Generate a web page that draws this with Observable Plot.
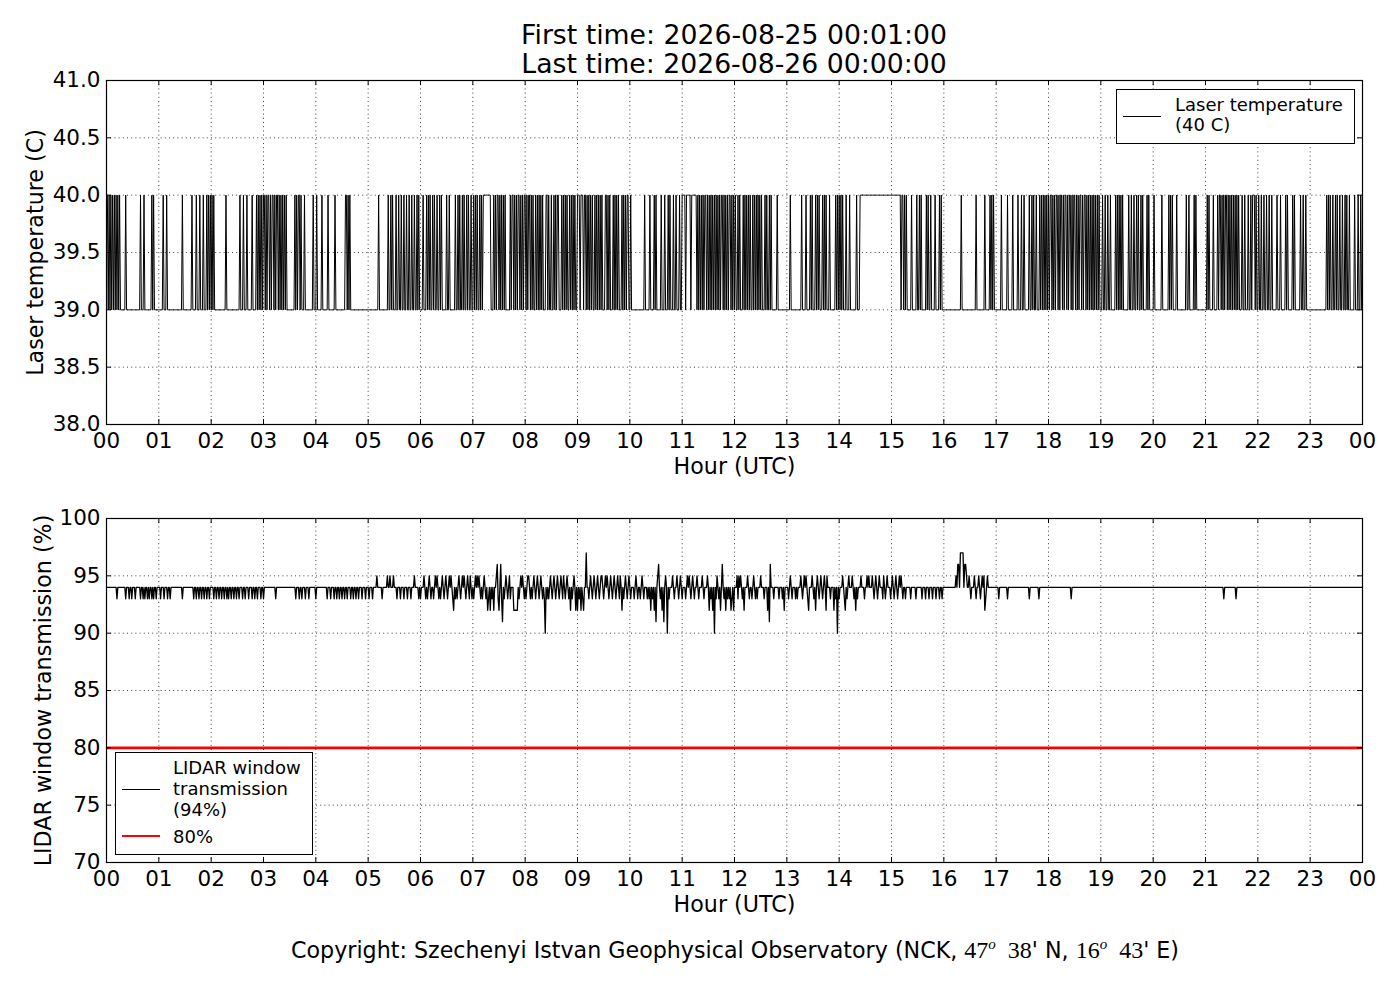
<!DOCTYPE html>
<html><head><meta charset="utf-8">
<script src="https://cdn.jsdelivr.net/npm/d3@7"></script>
<script src="https://cdn.jsdelivr.net/npm/@observablehq/plot@0.6"></script>
<style>
html,body{margin:0;padding:0;background:#fff;}
#page{position:relative;width:1400px;height:1000px;font-family:"DejaVu Sans",sans-serif;color:#000;overflow:hidden;}
.abs{position:absolute;}
#title{left:0;width:1468px;top:20px;text-align:center;font-size:26.7px;line-height:29px;z-index:5;}
#footer{left:0;width:1470px;top:935px;text-align:center;font-size:22.2px;line-height:30px;white-space:nowrap;}
.m{font-family:"Liberation Serif","DejaVu Serif",serif;font-size:24px;}
.m sup{font-size:15px;font-style:italic;vertical-align:9px;line-height:0;}
.legend{background:#fff;border:1.3px solid #000;box-sizing:border-box;z-index:5;font-size:18px;}
.legend .txt{position:absolute;white-space:nowrap;}
.legend .sw{position:absolute;height:0;}
</style></head><body>
<div id="page">
  <div id="title" class="abs">First time: 2026-08-25 00:01:00<br>Last time: 2026-08-26 00:00:00</div>
  <div id="p1" class="abs" style="left:0;top:60px;"></div>
  <div id="p2" class="abs" style="left:0;top:498px;"></div>
  <div id="leg1" class="abs legend" style="left:1116px;top:89px;width:239px;height:55px;">
    <div class="sw" style="left:6px;top:26px;width:38px;border-top:1.3px solid #000;"></div>
    <div class="txt" style="left:58px;top:5px;line-height:20px;">Laser temperature<br>(40 C)</div>
  </div>
  <div id="leg2" class="abs legend" style="left:115px;top:752px;width:198px;height:103px;">
    <div class="sw" style="left:6px;top:36px;width:38px;border-top:1.3px solid #000;"></div>
    <div class="txt" style="left:57px;top:4px;line-height:21px;">LIDAR window<br>transmission<br>(94%)</div>
    <div class="sw" style="left:6px;top:82px;width:38px;border-top:2.6px solid #ff0000;"></div>
    <div class="txt" style="left:57px;top:73px;line-height:21px;">80%</div>
  </div>
  <div id="footer" class="abs">Copyright: Szechenyi Istvan Geophysical Observatory (NCK, <span class="m">47<sup>o</sup>&nbsp; 38</span>' N, <span class="m">16<sup>o</sup>&nbsp; 43</span>' E)</div>
</div>
<script>
// ---------- axes ----------
const hourTicks = d3.range(0, 25);
const hourLabels = hourTicks.map(h => String(h % 24).padStart(2, "0"));
const tempTicks = [38, 38.5, 39, 39.5, 40, 40.5, 41];
const lidarTicks = [70, 75, 80, 85, 90, 95, 100];
const tempDomain = [38, 41];
const lidarDomain = [70, 100];

// ---------- laser temperature (per-minute samples, 39 or 40 C) ----------
const laserLow = 39;
const laserHigh = 40;
// minutes past each hour at which the reading is 40 C ([a, b] = a run of minutes)
const laserHighMinutes = [
  [1,3,5,7,9,11,13,15,22,39,43,52,54],
  [5,9,27,38,43,47,51,55,57,59],
  [1,3,17,33,37,41,47,52,54,56,58],
  [0,1,3,5,6,8,10,11,13,15,16,18,20,22,24,26,36,38,40,41,43,47,57],
  [1,7,14,22,34,35,37,39],
  [12,23,26,28,32,35,38,41,44,47,50,53,56,58],
  [3,7,9,11,14,16,19,22,24,30,33,40,43,45,48,50,53,55,58],
  [1,3,5,8,10,12,[13,20],24,26,28,29,31,33,35,37,43,45,46,48,50,52,53,55,57,59],
  [0,2,4,5,7,9,12,14,16,18,20,24,25,27,30,33,35,37,38,42,44,46,48,51,53,55,57],
  [0,1,2,4,5,6,8,9,11,13,15,17,20,22,24,26,28,32,33,35,37,41,43,45,47,51,53,55,57,58],
  [1,17,23,28,30,36,40,44,46,50,53,57],
  [0,1,2,3,5,6,7,8,9,11,12,13,14,15,16,18,20,22,24,26,27,29,31,33,35,37,39,41,43,45,46,48,50,52,54,55,57,59],
  [1,4,6,10,12,14,16,18,21,23,25,27,29,31,35,37,40,42,49],
  [4,17,22,27,29,33,35,37,41,43,45,49,56,58],
  [0,2,4,8,12,20,[24,59]],
  [[0,10],12,13,15,17,23,29,32,34,40,42,45,50,55,57],
  [20,37,47,53,55,57],
  [6,13,19,25,29,32,38,41,43,46,50,52,54,56,58],
  [0,2,3,5,7,9,10,12,14,15,17,19,20,22,24,25,27,29,30,32,34,36,37,39,41,42,44,46,48,50,52,54,56,58],
  [2,5,8,11,17,19,21,23,25,32,35,38,41,43,46,48,53,55],
  [1,10,18,20,22,27,38,41,47,49],
  [2,4,9,14,16,17,19,21,23,24,26,28,30,32,34,36,38,42,45,49,52,54,55,56,58],
  [1,4,7,10,13,16,22,26,32,34,40,42,49,52,55],
  [19,21,23,26,29,31,34,37,40,42,45,51,55,58]
];

// ---------- LIDAR window transmission (per-minute samples, %) ----------
const lidarBase = 94;
const lidarThreshold = 80;
// [minute of day, value] where the reading differs from the 94 % baseline
const lidarChanges = [
  [12,93],[22,93],[26,93],[29,93],[33,93],[39,93],[42,93],[44,93],[47,93],[49,93],[52,93],[54,93],[57,93],
  [62,93],[66,93],[70,93],[73,93],[87,93],[100,93],[103,93],[106,93],[109,93],[112,93],[115,93],[118,93],
  [123,93],[126,93],[129,93],[132,93],[135,93],[138,93],[140,93],[143,93],[146,93],[149,93],[152,93],
  [156,93],[159,93],[163,93],[167,93],[170,93],[173,93],[177,93],[180,93],[194,93],[217,93],[221,93],
  [224,93],[228,93],[232,93],[240,93],[253,93],[257,93],[261,93],[264,93],[267,93],[270,93],[273,93],
  [276,93],[280,93],[283,93],[286,93],[289,93],[293,93],[297,93],[301,93],[305,93],[310,95],[316,93],
  [322,95],[325,95],[329,95],[333,93],[337,93],[341,93],[345,93],[349,93],[353,95],
  [358,93],[360,93],[364,95],[366,93],[368,93],[370,95],[372,93],[375,93],[377,95],[379,95],[381,93],
  [383,93],[385,95],[387,93],[389,95],[391,93],[393,95],[395,95],[397,93],[398,92],
  [400,93],[402,93],[404,95],[406,93],[408,95],[410,95],[412,93],[414,95],[416,93],[417,95],[419,93],
  [421,93],[423,95],[425,95],[427,95],[429,93],[431,93],[433,95],[435,93],[437,92],[438,93],[440,92],
  [442,93],[444,92],[447,95],[448,96],[449,93],[450,92],[452,96],[453,93],[454,91],[456,93],
  [458,95],[460,93],[462,95],[463,93],[467,92],[468,92],[469,92],[470,92],[471,92],[473,93],
  [475,95],[477,95],[479,93],[481,93],[483,95],[484,95],[486,93],[488,93],[490,95],[492,93],[494,95],
  [496,93],[498,95],[500,93],[502,93],[503,90],[505,93],[507,93],[509,95],[511,93],[513,95],[515,93],
  [517,95],[519,93],[521,95],[523,93],[524,95],[526,93],[528,95],[530,93],[532,92],[534,93],[536,95],
  [538,92],[540,92],[542,93],[544,92],[546,93],[547,92],[550,97],[553,93],
  [555,95],[557,93],[559,95],[561,93],[563,95],[565,93],[567,95],[568,95],[570,93],[572,95],[574,95],
  [576,93],[578,95],[580,93],[582,95],[584,93],[586,95],[588,93],[589,95],[591,92],[593,93],[595,95],
  [597,93],[599,95],[601,93],[605,93],[607,95],[609,93],[612,93],[614,95],[616,93],[620,93],
  [622,93],[624,92],[626,93],[628,92],[630,91],[632,95],[633,96],[635,93],[637,92],[639,91],[641,95],
  [643,90],[645,93],[649,95],[651,93],[654,95],[656,93],[658,95],[660,93],[664,93],[666,95],
  [668,95],[670,93],[672,95],[674,93],[677,95],[679,93],[683,95],[685,93],[689,95],[691,92],[693,93],
  [695,92],[697,90],[699,93],[700,95],[702,93],[704,92],[706,96],[708,93],[710,92],[712,93],[714,93],
  [716,92],[717,93],[719,92],[723,95],[724,93],[725,95],[727,95],[729,93],[731,92],[735,95],[737,93],
  [740,93],[742,95],[744,93],[746,93],[750,95],[754,93],[758,92],[760,91],[761,96],
  [765,93],[771,93],[775,93],[777,92],[782,93],[784,95],[786,93],[790,93],[792,93],[796,95],[798,93],
  [800,95],[802,95],[804,93],[805,92],[809,95],[811,93],[813,92],[815,95],[817,93],[819,95],[821,93],
  [823,95],[825,92],[826,95],[830,93],[834,92],[836,93],[838,90],[840,93],[844,95],[846,93],[847,92],
  [849,93],[851,95],[855,95],[857,93],[859,92],[861,93],[865,95],[869,93],[872,95],[874,95],[878,95],
  [880,93],[882,95],[884,93],[886,95],[890,93],[891,95],[893,93],[895,95],[899,93],[901,95],[903,93],
  [905,95],[907,93],[909,95],[911,95],[913,93],[916,93],[922,93],[928,93],[935,93],[939,93],[943,93],
  [947,93],[951,93],[955,93],[958,93],
  [974,95],[976,96],[977,96],[979,97],[980,97],[981,97],[982,97],[984,96],[985,96],[986,95],
  [989,95],[991,93],[995,95],[997,93],[1000,95],[1002,93],[1004,95],[1006,95],[1007,92],[1008,93],
  [1010,95],[1023,93],[1033,93],[1058,93],[1069,93],[1106,93],[1281,93],[1295,93]
];

// ---------- build series ----------
const tempData = [];
for (let m = 1; m <= 1440; m++) {
  const list = laserHighMinutes[Math.floor(m / 60)] || [];
  const j = m % 60;
  const high = list.some(e => Array.isArray(e) ? (j >= e[0] && j <= e[1]) : e === j);
  tempData.push({hour: m / 60, value: high ? laserHigh : laserLow});
}
const lidarMap = new Map(lidarChanges);
const lidarData = [];
for (let m = 1; m <= 1440; m++) {
  lidarData.push({hour: m / 60, value: lidarMap.has(m) ? lidarMap.get(m) : lidarBase});
}

// ---------- panel builder ----------
const W = 1400, H = 424, ML = 106, MR = 38, MT = 20, MB = 60;
const FW = W - ML - MR, FH = H - MT - MB, TICK = 5;
const TICKFONT = 21.5;
const gridStyle = {stroke: "#000", strokeOpacity: 0.75, strokeWidth: 1, strokeDasharray: "1,3.2"};

function panel({data, domain, ticks, fmt, ylabel, ylabelOffset, extra, lineWidth}) {
  return Plot.plot({
    width: W, height: H,
    marginLeft: ML, marginRight: MR, marginTop: MT, marginBottom: MB,
    style: {fontFamily: "DejaVu Sans", fontSize: TICKFONT + "px", color: "#000", background: "transparent", overflow: "visible"},
    x: {domain: [0, 24], label: null},
    y: {domain, label: null},
    marks: [
      Plot.gridX(hourTicks.slice(1, -1), gridStyle),
      Plot.gridY(ticks.slice(1, -1), gridStyle),
      ...extra,
      Plot.line(data, {x: "hour", y: "value", stroke: "#000", strokeWidth: lineWidth}),
      Plot.frame({stroke: "#000", strokeWidth: 1.2}),
      Plot.ruleX(hourTicks, {x: d => d, insetBottom: FH - TICK, stroke: "#000"}),
      Plot.ruleX(hourTicks, {x: d => d, insetTop: FH - TICK, stroke: "#000"}),
      Plot.ruleY(ticks, {y: d => d, insetRight: FW - TICK, stroke: "#000"}),
      Plot.ruleY(ticks, {y: d => d, insetLeft: FW - TICK, stroke: "#000"}),
      Plot.axisX(hourTicks, {tickSize: 0, tickPadding: 8, tickFormat: (d, i) => hourLabels[i], label: null, fontSize: TICKFONT}),
      Plot.axisY(ticks, {tickSize: 0, tickPadding: 6, tickFormat: fmt, label: null, fontSize: TICKFONT}),
      Plot.text(["Hour (UTC)"], {text: d => d, frameAnchor: "bottom", lineAnchor: "middle", textAnchor: "middle", dy: 42, fontSize: 22.2}),
      Plot.text([ylabel], {text: d => d, frameAnchor: "left", lineAnchor: "middle", textAnchor: "middle", rotate: -90, dx: -ylabelOffset, fontSize: 22.2})
    ]
  });
}

document.getElementById("p1").appendChild(panel({
  data: tempData, domain: tempDomain, ticks: tempTicks, fmt: d3.format(".1f"),
  ylabel: "Laser temperature (C)", ylabelOffset: 71, extra: [], lineWidth: 1
}));
document.getElementById("p2").appendChild(panel({
  data: lidarData, domain: lidarDomain, ticks: lidarTicks, fmt: d => String(d),
  ylabel: "LIDAR window transmission (%)", ylabelOffset: 63,
  extra: [Plot.ruleY([lidarThreshold], {y: d => d, stroke: "#ff0000", strokeWidth: 2.6})],
  lineWidth: 1.3
}));
</script>
</body></html>
